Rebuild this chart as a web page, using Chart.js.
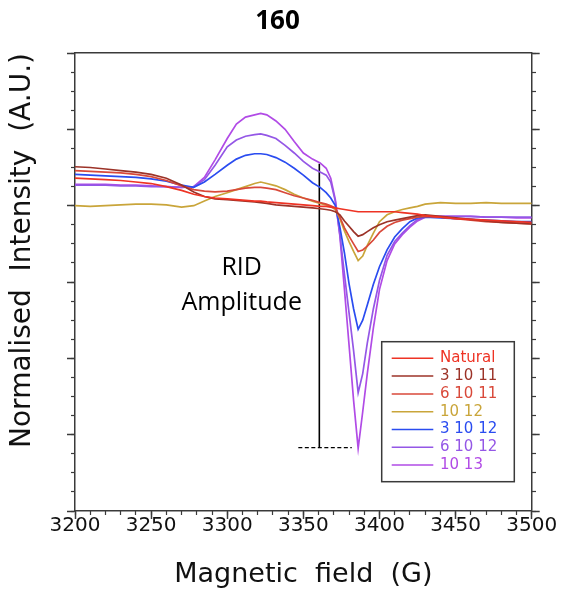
<!DOCTYPE html>
<html><head><meta charset="utf-8">
<script src="https://cdn.jsdelivr.net/npm/chart.js@4.4.0/dist/chart.umd.min.js"></script>
<style>html,body{margin:0;padding:0;background:#fff;}canvas{display:block;}</style>
</head><body>
<canvas id="c" width="563" height="594"></canvas>
<script>
// ---- data ----
const fieldG = [3200,3210,3220,3230,3240,3250,3260,3270,3278,3285,3292,3300,3306,3312,3318,3322,3326,3332,3338,3344,3350,3356,3361,3365,3368,3371,3374,3377,3380,3383,3386,3389,3392,3396,3400,3405,3410,3415,3420,3425,3430,3440,3450,3460,3470,3480,3490,3500];
const natural = [0.36,0.35,0.34,0.33,0.31,0.29,0.25,0.20, 0.15,0.12,0.10,0.09, 0.08,0.07,0.06,0.06,0.05, 0.04,0.03,0.02,0.01,0.00, -0.01,-0.01,-0.02,-0.03,-0.04, -0.05,-0.06,-0.07,-0.08,-0.08, -0.08,-0.08,-0.08,-0.08,-0.08, -0.09,-0.10,-0.11,-0.13, -0.15,-0.17,-0.18,-0.19,-0.20,-0.21,-0.22];
const s3_10_11 = [0.51,0.50,0.48,0.46,0.44,0.41,0.36,0.27, 0.18,0.12,0.09,0.08, 0.07,0.06,0.05,0.04,0.03, 0.01,0.00,-0.01,-0.02,-0.03, -0.04,-0.05,-0.06,-0.08,-0.12, -0.20,-0.27,-0.34,-0.40,-0.38, -0.34,-0.29,-0.25,-0.21,-0.19, -0.17,-0.15,-0.13,-0.12, -0.14,-0.16,-0.18,-0.20,-0.22,-0.23,-0.24];
const s6_10_11 = [0.46,0.45,0.44,0.43,0.41,0.38,0.33,0.26, 0.21,0.19,0.18,0.19, 0.21,0.23,0.24,0.24,0.23, 0.21,0.17,0.13,0.10,0.07, 0.04,0.02,0.00,-0.03,-0.15, -0.29,-0.40,-0.50,-0.60,-0.58, -0.53,-0.45,-0.35,-0.27,-0.22, -0.19,-0.17,-0.15,-0.14, -0.15,-0.17,-0.19,-0.21,-0.22,-0.23,-0.24];
const s10_12 = [0.00,-0.01,0.00,0.01,0.02,0.02,0.01,-0.02, 0.00,0.06,0.12,0.17, 0.21,0.25,0.29,0.31,0.29, 0.26,0.21,0.15,0.10,0.06, 0.03,0.01,-0.01,-0.05,-0.17, -0.33,-0.47,-0.60,-0.72,-0.66, -0.52,-0.36,-0.21,-0.12,-0.08, -0.05,-0.03,-0.01,0.02, 0.04,0.03,0.03,0.04,0.03,0.03,0.03];
const s3_10_12 = [0.41,0.40,0.39,0.38,0.37,0.35,0.32,0.27, 0.24,0.31,0.41,0.53, 0.61,0.66,0.68,0.68,0.67, 0.63,0.57,0.49,0.40,0.30, 0.24,0.17,0.10,0.00,-0.28, -0.62,-1.02,-1.35,-1.62,-1.50, -1.30,-1.03,-0.80,-0.58,-0.41, -0.30,-0.21,-0.16,-0.15, -0.16,-0.17,-0.18,-0.19,-0.20,-0.21,-0.21];
const s6_10_12 = [0.27,0.27,0.27,0.26,0.26,0.25,0.25,0.24, 0.25,0.34,0.53,0.77, 0.86,0.91,0.93,0.94,0.92, 0.88,0.79,0.69,0.58,0.49, 0.44,0.40,0.31,0.06,-0.38, -0.90,-1.40,-1.90,-2.45,-2.20, -1.80,-1.35,-0.98,-0.65,-0.47, -0.36,-0.26,-0.18,-0.14, -0.14,-0.14,-0.14,-0.15,-0.15,-0.15,-0.15];
const s10_13 = [0.28,0.28,0.28,0.27,0.27,0.26,0.25,0.24, 0.25,0.37,0.60,0.88, 1.07,1.16,1.19,1.21,1.19, 1.11,1.00,0.84,0.69,0.61, 0.56,0.49,0.36,0.08,-0.40, -1.10,-1.82,-2.55,-3.18,-2.70, -2.20,-1.60,-1.10,-0.72,-0.50, -0.38,-0.28,-0.20,-0.15, -0.14,-0.14,-0.14,-0.15,-0.15,-0.16,-0.16];
const seriesLabels = ['Natural','3 10 11','6 10 11','10 12','3 10 12','6 10 12','10 13'];
const seriesValues = [natural, s3_10_11, s6_10_11, s10_12, s3_10_12, s6_10_12, s10_13];
const seriesColors = ['#ee3324','#9c3328','#d9493a','#c9a53a','#2a4cf0','#9457e6','#b14be6'];
const xTickValues = [3200,3250,3300,3350,3400,3450,3500];
const xTickLabels = ['3200','3250','3300','3350','3400','3450','3500'];
const ridLineField = [3360.5, 3360.5];
const ridLineIntensity = [0.55, -3.17];
const ridBaseField = [3346.7, 3381.8];
const ridBaseIntensity = [-3.17, -3.17];
const annotationText = ['RID', 'Amplitude'];
const annotationField = 3309.5;
const annotationIntensity = [-0.81, -1.28];

// ---- chart ----
const AX = '#3a3a3a';
const datasets = seriesValues.map((vals, i) => ({
  label: seriesLabels[i], inLegend: true,
  data: fieldG.map((g, j) => ({x: g, y: vals[j]})),
  borderColor: seriesColors[i], backgroundColor: seriesColors[i],
  borderWidth: 1.7, pointRadius: 0, tension: 0, fill: false
}));
datasets.push({
  label: 'rid', inLegend: false,
  data: ridLineField.map((g, j) => ({x: g, y: ridLineIntensity[j]})),
  borderColor: '#000', borderWidth: 1.6, pointRadius: 0, fill: false
});
datasets.push({
  label: 'ridbase', inLegend: false,
  data: ridBaseField.map((g, j) => ({x: g, y: ridBaseIntensity[j]})),
  borderColor: '#000', borderWidth: 1.3, borderDash: [4, 2.5], pointRadius: 0, fill: false
});

const annotationPlugin = {
  id: 'annot',
  afterDatasetsDraw(chart) {
    const {ctx, scales: {x, y}} = chart;
    ctx.save();
    ctx.fillStyle = '#000';
    ctx.font = '25px "Open Sans"';
    ctx.textAlign = 'center'; ctx.textBaseline = 'middle';
    annotationText.forEach((t, i) => ctx.fillText(t, x.getPixelForValue(annotationField), y.getPixelForValue(annotationIntensity[i])));
    ctx.restore();
  }
};
const legendPlugin = {
  id: 'boxLegend',
  afterDraw(chart) {
    const {ctx, chartArea: ca} = chart;
    const bx = ca.left + 306.7, by = ca.top + 288.7, bw = 132.6, bh = 140;
    ctx.save();
    ctx.fillStyle = '#fff'; ctx.fillRect(bx, by, bw, bh);
    ctx.strokeStyle = AX; ctx.lineWidth = 1.5; ctx.strokeRect(bx, by, bw, bh);
    ctx.font = '15px "DejaVu Sans"'; ctx.textBaseline = 'middle'; ctx.textAlign = 'left';
    chart.data.datasets.filter(d => d.inLegend).forEach((d, i) => {
      const yy = by + 16.6 + i * 17.8;
      ctx.strokeStyle = d.borderColor; ctx.lineWidth = 1.5;
      ctx.beginPath(); ctx.moveTo(bx + 10, yy); ctx.lineTo(bx + 51.6, yy); ctx.stroke();
      ctx.fillStyle = d.borderColor; ctx.fillText(d.label, bx + 58.3, yy);
    });
    ctx.restore();
  }
};

Chart.defaults.font.family = '"DejaVu Sans"';
new Chart(document.getElementById('c'), {
  type: 'line',
  data: {datasets},
  options: {
    responsive: false, animation: false, devicePixelRatio: 1, events: [],
    layout: {padding: {left: 0, right: 8, top: 0, bottom: 0}},
    plugins: {
      legend: {display: false}, tooltip: {enabled: false},
      title: {display: true, text: '160', color: '#000', font: {family: '"Open Sans"', size: 26, weight: 'bold'}, padding: {top: 6.4, bottom: 15.4}}
    },
    scales: {
      x: {
        type: 'linear', position: 'bottom', min: 3200, max: 3500,
        afterFit: s => { s.height = 83; },
        ticks: {stepSize: 50, autoSkip: false, maxRotation: 0, padding: -5, color: '#111', font: {size: 20},
          callback: v => { const i = xTickValues.indexOf(v); return i >= 0 ? xTickLabels[i] : ''; }},
        grid: {drawOnChartArea: false, drawTicks: true, tickLength: 8, tickColor: AX, tickWidth: 1.5},
        border: {display: true, color: AX, width: 1.5},
        title: {display: true, text: 'Magnetic  field  (G)', color: '#111', font: {size: 27}, padding: {top: 0, bottom: 3}}
      },
      xMinor: {
        type: 'linear', axis: 'x', position: {y: -4}, min: 3200, max: 3500,
        ticks: {display: false, stepSize: 10},
        grid: {drawOnChartArea: false, drawTicks: true, tickLength: 4, tickColor: AX, tickWidth: 1.2},
        border: {display: false}
      },
      xTop: {
        type: 'linear', position: 'top', min: 3200, max: 3500,
        afterFit: s => { s.height = 0; },
        ticks: {display: false},
        grid: {drawOnChartArea: false, drawTicks: false},
        border: {display: true, color: AX, width: 1.5}
      },
      y: {
        type: 'linear', position: 'left', min: -4, max: 2,
        afterFit: s => { s.width = 75; },
        ticks: {display: false, stepSize: 1},
        grid: {drawOnChartArea: false, drawTicks: true, tickLength: 8, tickColor: AX, tickWidth: 1.5},
        border: {display: true, color: AX, width: 1.5},
        title: {display: true, text: 'Normalised  Intensity  (A.U.)', align: 'end', color: '#111', font: {size: 28}, padding: {top: 6, bottom: 0}}
      },
      yRight: {
        type: 'linear', position: 'right', min: -4, max: 2,
        afterFit: s => { s.width = 23.3; },
        ticks: {display: false, stepSize: 1},
        grid: {drawOnChartArea: false, drawTicks: true, tickLength: 8, tickColor: AX, tickWidth: 1.5},
        border: {display: true, color: AX, width: 1.5}
      },
      yMinorL: {
        type: 'linear', axis: 'y', position: {x: 3200}, min: -4, max: 2,
        ticks: {display: false, stepSize: 0.25},
        grid: {drawOnChartArea: false, drawTicks: true, tickLength: 4, tickColor: AX, tickWidth: 1.2},
        border: {display: false}
      },
      yMinorR: {
        type: 'linear', axis: 'y', position: {x: 3500}, min: -4, max: 2,
        ticks: {display: false, stepSize: 0.25},
        grid: {drawOnChartArea: false, drawTicks: true, tickLength: -4, tickColor: AX, tickWidth: 1.2},
        border: {display: false}
      }
    }
  },
  plugins: [annotationPlugin, legendPlugin]
});
</script>
</body></html>
